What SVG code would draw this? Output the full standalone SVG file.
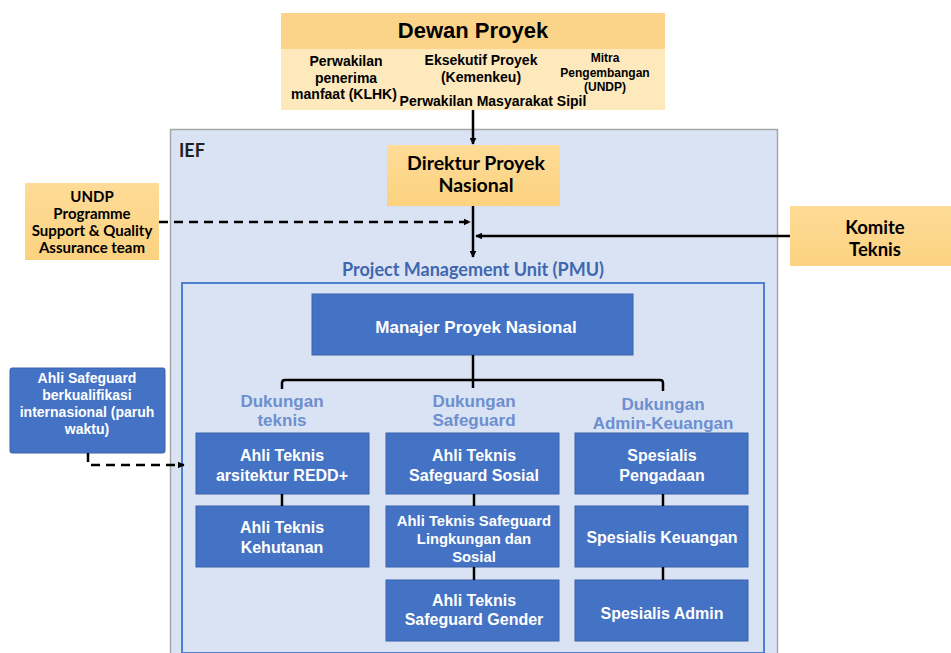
<svg xmlns="http://www.w3.org/2000/svg" width="951" height="653" viewBox="0 0 951 653">
<defs>
<marker id="ah" viewBox="0 0 10 10" refX="9" refY="5" markerWidth="7" markerHeight="7" orient="auto" markerUnits="userSpaceOnUse"><path d="M0,0 L10,5 L0,10 z" fill="#000"/></marker>
<linearGradient id="gold" x1="0" y1="0" x2="0" y2="1"><stop offset="0" stop-color="#fedb97"/><stop offset="1" stop-color="#fbd27f"/></linearGradient>
</defs>
<style>
.blue{fill:#4472c4;stroke:#3a63ad;stroke-width:1}
.wt{fill:#fff;font-family:"Liberation Sans",Arial,sans-serif;font-weight:bold;font-size:16px;text-anchor:middle}
.bt{fill:#000;font-family:"Liberation Sans",Arial,sans-serif;font-weight:bold;font-size:14px;text-anchor:middle}
.ct{fill:#000;font-family:Lato,"Open Sans",sans-serif;font-weight:bold;text-anchor:middle}
.dk{fill:#6d8fcf;font-family:"Liberation Sans",Arial,sans-serif;font-weight:bold;font-size:17px;text-anchor:middle}
.ln{fill:none;stroke:#000;stroke-width:2.5}
.ds{fill:none;stroke:#000;stroke-width:2.5;stroke-dasharray:9 6}
</style>
<rect width="951" height="653" fill="#fff"/>
<g id="ief">
<rect x="170.5" y="129.5" width="607" height="530" fill="#dae3f3" stroke="#a6a6a6" stroke-width="1.5"/>
<text x="179" y="157" style="font-family:Lato,'Open Sans',sans-serif;font-weight:bold;font-size:18px;fill:#222">IEF</text>
</g>
<g id="pmu">
<text x="473" y="276" style="font-family:Lato,'Open Sans',sans-serif;font-weight:bold;font-size:18px;fill:#3f67b0;text-anchor:middle">Project Management Unit (PMU)</text>
<rect x="182" y="283" width="582" height="370" fill="#dae3f3" stroke="#4f7fd0" stroke-width="2"/>
</g>
<g id="dewan">
<rect x="281" y="13" width="384" height="97" fill="#fde9bc"/>
<rect x="281" y="13" width="384" height="36" fill="#fbd48a"/>
<text x="473" y="38" style="font-family:'Liberation Sans',Arial,sans-serif;font-weight:bold;font-size:22px;fill:#000;text-anchor:middle">Dewan Proyek</text>
<text class="bt" x="346" y="66">Perwakilan</text>
<text class="bt" x="346" y="83">penerima</text>
<text class="bt" x="344" y="99">manfaat (KLHK)</text>
<text class="bt" x="481" y="65">Eksekutif Proyek</text>
<text class="bt" x="481" y="82">(Kemenkeu)</text>
<text class="bt" x="605" y="62" style="font-size:12px">Mitra</text>
<text class="bt" x="605" y="77" style="font-size:12px">Pengembangan</text>
<text class="bt" x="605" y="91" style="font-size:12px">(UNDP)</text>
<text class="bt" x="493" y="106">Perwakilan Masyarakat Sipil</text>
</g>
<g id="direktur">
<rect x="387" y="145" width="173" height="61" fill="url(#gold)"/>
<text class="ct" x="476" y="170" style="font-size:19.5px">Direktur Proyek</text>
<text class="ct" x="476" y="192" style="font-size:19.5px">Nasional</text>
</g>
<g id="undp">
<rect x="25" y="183" width="134" height="77" fill="url(#gold)"/>
<text class="ct" x="92" y="202" style="font-size:15px">UNDP</text>
<text class="ct" x="92" y="219" style="font-size:15px">Programme</text>
<text class="ct" x="92" y="236" style="font-size:15px">Support &amp; Quality</text>
<text class="ct" x="92" y="253" style="font-size:15px">Assurance team</text>
</g>
<g id="komite">
<rect x="790" y="206" width="161" height="60" fill="url(#gold)"/>
<text class="ct" x="875" y="234" style="font-size:18.5px">Komite</text>
<text class="ct" x="875" y="256" style="font-size:18.5px">Teknis</text>
</g>
<g id="ahli-safeguard-int">
<rect x="10" y="368" width="155" height="85" rx="2" class="blue"/>
<text class="wt" x="87" y="383" style="font-size:14px">Ahli Safeguard</text>
<text class="wt" x="87" y="400" style="font-size:14px">berkualifikasi</text>
<text class="wt" x="87" y="417" style="font-size:14px">internasional (paruh</text>
<text class="wt" x="87" y="434" style="font-size:14px">waktu)</text>
</g>
<g id="manajer">
<rect x="312" y="294" width="321" height="61" class="blue"/>
<text class="wt" x="476" y="333" style="font-size:17px">Manajer Proyek Nasional</text>
</g>
<g id="dukungan-labels">
<text class="dk" x="282" y="407">Dukungan</text>
<text class="dk" x="282" y="426">teknis</text>
<text class="dk" x="474" y="407">Dukungan</text>
<text class="dk" x="474" y="426">Safeguard</text>
<text class="dk" x="663" y="410">Dukungan</text>
<text class="dk" x="663" y="429">Admin-Keuangan</text>
</g>
<g id="redd">
<rect x="196" y="433" width="173" height="61" class="blue"/>
<text class="wt" x="282" y="461">Ahli Teknis</text>
<text class="wt" x="282" y="481">arsitektur REDD+</text>
</g>
<g id="kehutanan">
<rect x="196" y="506" width="173" height="61" class="blue"/>
<text class="wt" x="282" y="533">Ahli Teknis</text>
<text class="wt" x="282" y="553">Kehutanan</text>
</g>
<g id="sosial">
<rect x="386" y="433" width="173" height="61" class="blue"/>
<text class="wt" x="474" y="461">Ahli Teknis</text>
<text class="wt" x="474" y="481">Safeguard Sosial</text>
</g>
<g id="lingkungan">
<rect x="386" y="506" width="173" height="61" class="blue"/>
<text class="wt" x="474" y="526" style="font-size:14.8px">Ahli Teknis Safeguard</text>
<text class="wt" x="474" y="544" style="font-size:14.8px">Lingkungan dan</text>
<text class="wt" x="474" y="562" style="font-size:14.8px">Sosial</text>
</g>
<g id="gender">
<rect x="386" y="580" width="173" height="61" class="blue"/>
<text class="wt" x="474" y="606">Ahli Teknis</text>
<text class="wt" x="474" y="625">Safeguard Gender</text>
</g>
<g id="pengadaan">
<rect x="575" y="433" width="173" height="61" class="blue"/>
<text class="wt" x="662" y="461">Spesialis</text>
<text class="wt" x="662" y="481">Pengadaan</text>
</g>
<g id="keuangan">
<rect x="575" y="506" width="173" height="61" class="blue"/>
<text class="wt" x="662" y="543">Spesialis Keuangan</text>
</g>
<g id="admin">
<rect x="575" y="580" width="173" height="61" class="blue"/>
<text class="wt" x="662" y="619">Spesialis Admin</text>
</g>
<g id="connectors">
<path class="ln" d="M473,110 V144" marker-end="url(#ah)"/>
<path class="ln" d="M473,206 V257" marker-end="url(#ah)"/>
<path class="ds" d="M159,222 H470" marker-end="url(#ah)"/>
<path class="ln" d="M790,236 H476" marker-end="url(#ah)"/>
<path class="ln" d="M473,355 V388"/>
<path class="ln" d="M282,389 V383 Q282,380 285,380 H660 Q663,380 663,383 V391"/>
<path class="ds" d="M88,453 V465 H184" marker-end="url(#ah)"/>
<path class="ln" d="M282,494 V506"/>
<path class="ln" d="M474,494 V506"/>
<path class="ln" d="M474,567 V580"/>
<path class="ln" d="M663,494 V506"/>
<path class="ln" d="M663,567 V580"/>
</g>
</svg>
